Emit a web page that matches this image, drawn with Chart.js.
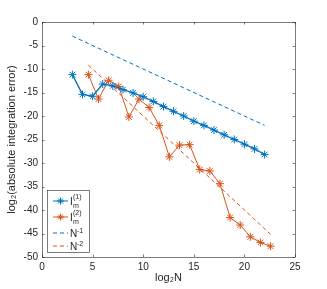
<!DOCTYPE html>
<html><head><meta charset="utf-8">
<script src="https://cdn.jsdelivr.net/npm/chart.js@4.4.0/dist/chart.umd.min.js"></script>
<style>html,body{margin:0;padding:0;background:#fff}#wrap{width:327px;height:289px}</style>
</head><body><div id="wrap"><canvas id="c" width="327" height="289"></canvas></div>
<script>
const xI1 = [3,4,5,6,7,8,9,10,11,12,13,14,15,16,17,18,19,20,21,22];
const yI1 = [-11.2,-15.4,-15.8,-13.2,-13.6,-14.4,-15.1,-15.9,-16.9,-18.0,-19.0,-20.0,-21.1,-22.0,-23.0,-24.0,-25.0,-26.0,-27.0,-28.2];
const xI2 = [4.585,5.585,6.585,7.585,8.585,9.585,10.585,11.585,12.585,13.585,14.585,15.585,16.585,17.585,18.585,19.585,20.585,21.585,22.585];
const yI2 = [-11.2,-16.4,-12.4,-13.7,-20.2,-16.4,-18.2,-22.0,-28.7,-26.2,-26.1,-31.4,-31.7,-34.4,-41.6,-43.2,-45.7,-46.9,-47.7];
const xRef1 = [3,22];
const yRef1 = [-3,-22];
const xRef2 = [4.585,22.585];
const yRef2 = [-9.17,-45.17];
const xTicks = [0,5,10,15,20,25];
const yTicks = [-50,-45,-40,-35,-30,-25,-20,-15,-10,-5,0];

const BLUE = '#0072BD', ORANGE = '#D95319', AX = '#262626';
const pts = (xs, ys) => xs.map((x, i) => ({x, y: ys[i]}));
const FONT = '"Liberation Sans", Arial, sans-serif';

const boxPlugin = {
  id: 'box',
  afterDraw(chart) {
    const {ctx, chartArea: a, scales: {x, y}} = chart;
    ctx.save();
    ctx.strokeStyle = AX; ctx.lineWidth = 0.6;
    ctx.strokeRect(Math.round(a.left)+0.5, Math.round(a.top)+0.5, Math.round(a.right-a.left), Math.round(a.bottom-a.top));
    ctx.beginPath();
    const tl = 2.5;
    xTicks.forEach(v => { const p = Math.round(x.getPixelForValue(v))+0.5;
      ctx.moveTo(p, a.bottom); ctx.lineTo(p, a.bottom - tl);
      ctx.moveTo(p, a.top); ctx.lineTo(p, a.top + tl); });
    yTicks.forEach(v => { const p = Math.round(y.getPixelForValue(v))+0.5;
      ctx.moveTo(a.left, p); ctx.lineTo(a.left + tl, p);
      ctx.moveTo(a.right, p); ctx.lineTo(a.right - tl, p); });
    ctx.stroke();
    // legend
    const L = 47.5, T = 190.5, W = 42, H = 62;
    ctx.fillStyle = '#fff'; ctx.fillRect(L, T, W, H);
    ctx.strokeStyle = AX; ctx.lineWidth = 0.6; ctx.strokeRect(L, T, W, H);
    const items = [
      {c: BLUE, dash: [], marker: true, sup: '(1)', y: 201},
      {c: ORANGE, dash: [], marker: true, sup: '(2)', y: 217},
      {c: BLUE, dash: [4,3], marker: false, sup: '-1', y: 233},
      {c: ORANGE, dash: [4,3], marker: false, sup: '-2', y: 246}
    ];
    items.forEach((it, i) => {
      ctx.strokeStyle = it.c; ctx.lineWidth = 1; ctx.setLineDash(it.dash);
      ctx.beginPath(); ctx.moveTo(53, it.y); ctx.lineTo(68, it.y); ctx.stroke();
      ctx.setLineDash([]);
      if (it.marker) {
        const cx = 60.5, r = 3.5;
        ctx.beginPath();
        for (let k = 0; k < 4; k++) { const ang = k * Math.PI / 4;
          ctx.moveTo(cx - r*Math.cos(ang), it.y - r*Math.sin(ang));
          ctx.lineTo(cx + r*Math.cos(ang), it.y + r*Math.sin(ang)); }
        ctx.stroke();
      }
      ctx.fillStyle = AX; ctx.textBaseline = 'alphabetic'; ctx.textAlign = 'left';
      if (i < 2) {
        ctx.font = '10px ' + FONT; ctx.fillText('I', 70, it.y + 4);
        ctx.font = '7px ' + FONT; ctx.fillText('m', 73, it.y + 7);
        ctx.fillText(it.sup, 73, it.y - 2);
      } else {
        ctx.font = '10px ' + FONT; ctx.fillText('N', 70, it.y + 4);
        ctx.font = '7px ' + FONT; ctx.fillText(it.sup, 77, it.y - 0.5);
      }
    });
    ctx.restore();
  }
};

new Chart(document.getElementById('c'), {
  type: 'scatter',
  data: { datasets: [
    {label: 'I1', data: pts(xI1, yI1), showLine: true, borderColor: BLUE, backgroundColor: BLUE,
     borderWidth: 1.3, pointStyle: 'star', pointRadius: 4, pointBorderWidth: 1, pointBorderColor: BLUE},
    {label: 'I2', data: pts(xI2, yI2), showLine: true, borderColor: ORANGE, backgroundColor: ORANGE,
     borderWidth: 1, pointStyle: 'star', pointRadius: 4, pointBorderWidth: 1, pointBorderColor: ORANGE},
    {label: 'N^-1', data: pts(xRef1, yRef1), showLine: true, borderColor: BLUE, borderWidth: 1,
     borderDash: [4,3], pointRadius: 0},
    {label: 'N^-2', data: pts(xRef2, yRef2), showLine: true, borderColor: ORANGE, borderWidth: 1,
     borderDash: [4,3], pointRadius: 0}
  ]},
  options: {
    responsive: false, animation: false, devicePixelRatio: 1,
    layout: {padding: {left: 0, right: 32, top: 22, bottom: 4}},
    plugins: {legend: {display: false}, tooltip: {enabled: false}},
    scales: {
      x: {type: 'linear', min: 0, max: 25,
        afterBuildTicks: s => { s.ticks = xTicks.map(v => ({value: v})); },
        afterFit: s => { s.height = 28; },
        grid: {display: false, drawTicks: false}, border: {display: false},
        ticks: {color: AX, font: {family: FONT, size: 10}, padding: 4},
        title: {display: true, text: 'log₂N', color: AX, font: {family: FONT, size: 11}, padding: {top: 0, bottom: 0}}},
      y: {type: 'linear', min: -50, max: 0,
        afterBuildTicks: s => { s.ticks = yTicks.map(v => ({value: v})); },
        afterFit: s => { s.width = 42; },
        grid: {display: false, drawTicks: false}, border: {display: false},
        ticks: {color: AX, font: {family: FONT, size: 10}, padding: 4},
        title: {display: true, text: 'log₂(absolute integration error)', color: AX, font: {family: FONT, size: 11}, padding: {top: 5, bottom: 2}}}
    }
  },
  plugins: [boxPlugin]
});
</script></body></html>
